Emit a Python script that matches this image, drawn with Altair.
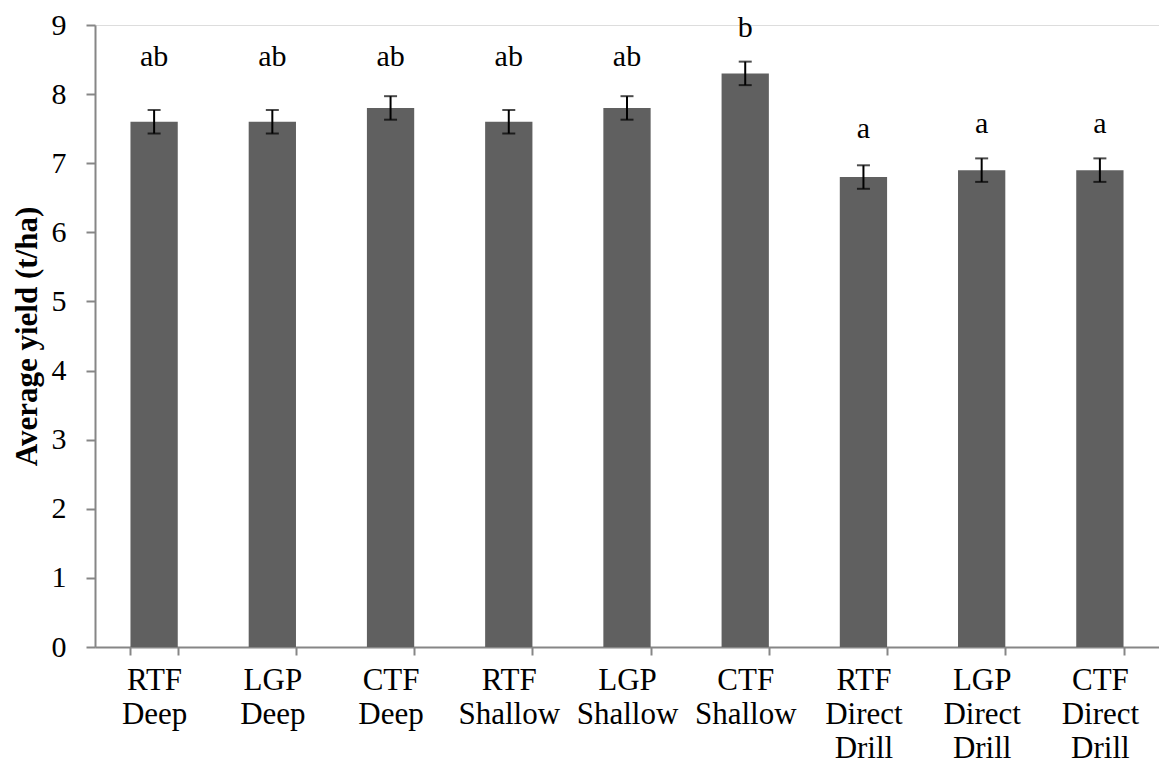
import altair as alt
import pandas as pd

categories = ["RTF\nDeep", "LGP\nDeep", "CTF\nDeep",
              "RTF\nShallow", "LGP\nShallow", "CTF\nShallow",
              "RTF\nDirect\nDrill", "LGP\nDirect\nDrill", "CTF\nDirect\nDrill"]
yields = [7.6, 7.6, 7.8, 7.6, 7.8, 8.3, 6.8, 6.9, 6.9]
errors = [0.17, 0.17, 0.17, 0.17, 0.17, 0.17, 0.17, 0.17, 0.17]
letters = ["ab", "ab", "ab", "ab", "ab", "b", "a", "a", "a"]
letter_y = [8.40, 8.40, 8.40, 8.40, 8.40, 8.83, 7.37, 7.44, 7.44]
y_ticks = [0, 1, 2, 3, 4, 5, 6, 7, 8, 9]

df = pd.DataFrame({
    "cat": categories,
    "yield": yields,
    "lo": [v - e for v, e in zip(yields, errors)],
    "hi": [v + e for v, e in zip(yields, errors)],
    "letter": letters,
    "ly": letter_y,
})

AXIS_COLOR = "#868686"
FONT = "Liberation Serif"

x = alt.X("cat:N", sort=None, title=None,
          scale=alt.Scale(paddingInner=0.6, paddingOuter=0.3),
          axis=alt.Axis(labelExpr="split(datum.label, '\\n')",
                        labelFont=FONT, labelFontSize=31, labelColor="black",
                        labelLineHeight=34, labelPadding=10, labelAngle=0,
                        tickBand="extent", tickSize=8, tickColor=AXIS_COLOR,
                        tickWidth=2, domainColor=AXIS_COLOR, domainWidth=2,
                        grid=False))

yscale = alt.Scale(domain=[0, 9], nice=False)

bars = alt.Chart(df).mark_bar(color="#606060").encode(
    x=x,
    y=alt.Y("yield:Q", scale=yscale, title="Average yield (t/ha)",
            axis=alt.Axis(values=y_ticks, format="d", labelFont=FONT, labelFontSize=30,
                          labelColor="black", labelPadding=20,
                          tickSize=9, tickColor=AXIS_COLOR, tickWidth=2,
                          domainColor=AXIS_COLOR, domainWidth=2, grid=False,
                          titleFont=FONT, titleFontSize=31, titleFontWeight="bold",
                          titleColor="black", titleX=-68, titleY=311,
                          titleAlign="center", titleBaseline="middle",
                          titleAngle=-90)),
)

rules = alt.Chart(df).mark_rule(color="black", strokeWidth=2).encode(
    x=alt.X("cat:N", sort=None),
    y=alt.Y("lo:Q", scale=yscale),
    y2="hi:Q",
)

caps_lo = alt.Chart(df).mark_tick(color="black", thickness=2, size=13).encode(
    x=alt.X("cat:N", sort=None),
    y=alt.Y("lo:Q", scale=yscale),
)
caps_hi = alt.Chart(df).mark_tick(color="black", thickness=2, size=13).encode(
    x=alt.X("cat:N", sort=None),
    y=alt.Y("hi:Q", scale=yscale),
)

text = alt.Chart(df).mark_text(font=FONT, fontSize=30, color="black",
                               baseline="alphabetic", align="center").encode(
    x=alt.X("cat:N", sort=None),
    y=alt.Y("ly:Q", scale=yscale),
    text="letter:N",
)

chart = alt.layer(bars, rules, caps_lo, caps_hi, text).properties(
    width=1064, height=622,
    autosize=alt.AutoSizeParams(type="none"),
    padding={"left": 87, "top": 17, "right": 0, "bottom": 118},
).configure_view(stroke=None).configure(background="white")

chart.save("out.html", embed_options={"renderer": "svg", "actions": False})
